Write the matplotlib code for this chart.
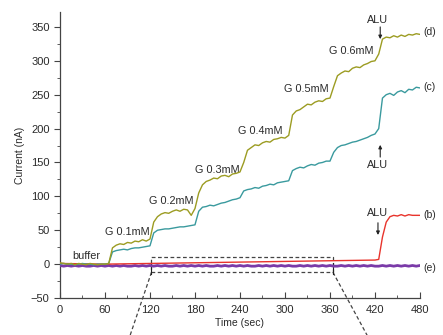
import numpy as np
from matplotlib import pyplot as plt

plt.rcParams['font.family'] = ['Liberation Sans', 'DejaVu Sans']

# time grid for the two glucose traces (sec)
t_steps = list(range(0, 481, 5))

curve_d = [2, 1, 0, 1, -1, 1, 0, -1, 1, 0, -1, 0, 0,
           1, 24, 28, 30, 29, 32, 31, 34, 33, 36, 34, 37,
           62, 70, 74, 76, 75, 78, 80, 78, 81, 80, 72, 82,
           105, 117, 122, 124, 127, 126, 130, 131, 129, 133, 134, 136,
           150, 168, 172, 176, 175, 179, 181, 180, 184, 185, 187, 186, 190,
           220, 226, 228, 232, 236, 235, 239, 241, 240, 244, 245,
           262, 278, 282, 285, 284, 289, 291, 290, 294, 296, 299, 300,
           310, 332, 335, 334, 337, 335, 338, 336, 339, 338, 340, 339]

curve_c = [0, 1, 0, 0, -1, 0, 1, 0, 0, -1, 0, 0, 0,
           1, 18, 20, 21, 22, 21, 23, 24, 24, 25, 26, 27,
           46, 50, 51, 52, 52, 53, 54, 55, 55, 56, 57, 58,
           78, 84, 85, 87, 86, 88, 90, 91, 93, 95, 96, 98,
           108, 110, 111, 113, 112, 115, 116, 118, 117, 120, 121, 122, 123,
           138, 141, 143, 142, 145, 147, 146, 149, 150, 152, 152,
           165, 172, 175, 176, 178, 180, 181, 183, 185, 187, 190, 192,
           200, 245, 250, 252, 249, 254, 256, 253, 258, 257, 261, 260]

t_b = [0, 60, 120, 180, 240, 300, 360, 420, 425, 430, 435, 440, 445,
       450, 455, 460, 465, 470, 475, 480]
curve_b = [1, 0, 1, 2, 3, 4, 5, 6, 7, 40, 62, 70, 72, 71, 73, 71, 73, 72,
           72, 72]

t_e = list(range(0, 481, 5))
curve_e = [-2, -3, -2, -3, -2, -3, -2, -3, -3, -2, -3, -2, -3, -2, -3, -2,
           -3, -2, -3, -3, -2, -3, -2, -3, -2, -3, -2, -3, -2, -3, -3, -2,
           -3, -2, -3, -2, -3, -2, -3, -2, -3, -3, -2, -3, -2, -3, -2, -3,
           -2, -3, -2, -3, -3, -2, -3, -2, -3, -2, -3, -2, -3, -2, -3, -3,
           -2, -3, -2, -3, -2, -3, -2, -3, -2, -3, -3, -2, -3, -2, -3, -2,
           -3, -2, -3, -2, -3, -3, -2, -3, -2, -3, -2, -3, -2, -3, -2, -3,
           -2]

step_labels = ['G 0.1mM', 'G 0.2mM', 'G 0.3mM', 'G 0.4mM', 'G 0.5mM',
               'G 0.6mM']
step_label_x = [90, 148, 210, 267, 329, 388]
step_label_y = [47, 93, 139, 196, 258, 314]

curve_names = ['(d)', '(c)', '(b)', '(e)']
curve_name_y = [342, 261, 72, -6]

# zoomed region marked on the plot
box_x = [122, 364]
box_y = [-12, 10]


def main():
    fig = plt.figure(figsize=(4.43, 3.35), dpi=100)
    ax = fig.add_axes([0.1354, 0.1104, 0.8126, 0.8537])

    ax.plot(t_e, curve_e, c='#7a3aa8', lw=2.0, zorder=3)
    ax.plot(t_b, curve_b, c='#e8342c', lw=1.0, zorder=4)
    ax.plot(t_steps, curve_c, c='#3a9a9e', lw=1.0, zorder=5)
    ax.plot(t_steps, curve_d, c='#9c9c22', lw=1.0, zorder=6)

    ax.set_xlim(0, 480)
    ax.set_ylim(-50, 372)
    ax.set_xticks(np.arange(0, 481, 60))
    ax.set_xticks(np.arange(30, 481, 60), minor=True)
    ax.set_yticks(np.arange(-50, 351, 50))
    ax.set_yticks(np.arange(-25, 351, 50), minor=True)
    ax.spines['top'].set_visible(False)
    ax.spines['right'].set_visible(False)
    for s in ['left', 'bottom']:
        ax.spines[s].set_color('#444444')
        ax.spines[s].set_linewidth(0.9)
    ax.tick_params(axis='x', which='major', direction='in', length=4,
                   labelsize=8, colors='#444444', labelcolor='#2a2a2a',
                   pad=5)
    ax.tick_params(axis='x', which='minor', direction='in', length=2.5,
                   colors='#444444')
    ax.tick_params(axis='y', which='major', direction='out', length=4,
                   labelsize=8, colors='#444444', labelcolor='#2a2a2a')
    ax.tick_params(axis='y', which='minor', direction='out', length=2,
                   colors='#444444')
    ax.set_xlabel('Time (sec)', fontsize=7.5, color='#2a2a2a', labelpad=2)
    ax.set_ylabel('Current (nA)', fontsize=7.5, color='#2a2a2a', labelpad=4)

    txt = dict(fontsize=7.8, color='#2a2a2a', ha='center', va='center')
    ax.text(35, 12, 'buffer', **txt)
    for lab, x, y in zip(step_labels, step_label_x, step_label_y):
        ax.text(x, y, lab, **txt)
    for lab, y in zip(curve_names, curve_name_y):
        ax.text(485, y, lab, fontsize=7.5, color='#2a2a2a', ha='left',
                va='center', clip_on=False)

    arrow = dict(arrowstyle='-|>', color='#222222', lw=0.8,
                 mutation_scale=5, shrinkA=0, shrinkB=0)
    ax.text(424, 360, 'ALU', **txt)
    ax.annotate('', xy=(427, 332), xytext=(427, 350), arrowprops=arrow)
    ax.text(424, 147, 'ALU', **txt)
    ax.annotate('', xy=(427, 176), xytext=(427, 158), arrowprops=arrow)
    ax.text(424, 75, 'ALU', **txt)
    ax.annotate('', xy=(424, 43), xytext=(424, 61), arrowprops=arrow)

    dash = dict(color='#444444', lw=0.9, ls=(0, (3, 2)))
    ax.plot([box_x[0], box_x[1], box_x[1], box_x[0], box_x[0]],
            [box_y[0], box_y[0], box_y[1], box_y[1], box_y[0]], **dash)
    ax.plot([box_x[0], 92], [box_y[0], -110], clip_on=False, **dash)
    ax.plot([box_x[1], 412], [box_y[0], -110], clip_on=False, **dash)
    ax.plot([box_x[0], box_x[0]], [-14, 2], c='#222222', lw=0.8)
    ax.plot([box_x[1], box_x[1]], [-14, 2], c='#222222', lw=0.8)

    fig.savefig('out.png', dpi=100)


if __name__ == '__main__':
    main()
